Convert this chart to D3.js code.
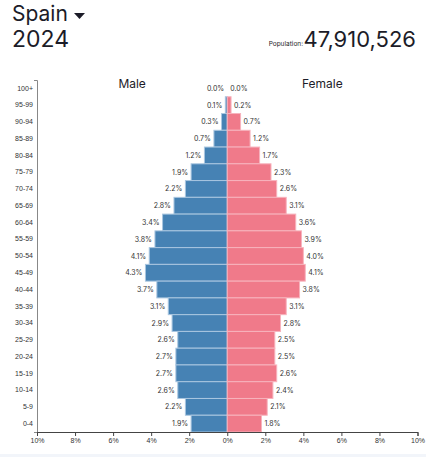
<!DOCTYPE html>
<html>
<head>
<meta charset="utf-8">
<script src="https://cdn.jsdelivr.net/npm/d3@7/dist/d3.min.js"></script>
<style>
  body { margin: 0; background: #fff; font-family: Inter, "Liberation Sans", Arial, sans-serif; }
  svg text { fill: #1c1c28; }
  .val { font-size: 7px; fill: #333; }
  .axis text { font-size: 7px; fill: #333; }
</style>
</head>
<body>
<script>
// age groups, top to bottom
var ageGroups = ["100+", "95-99", "90-94", "85-89", "80-84", "75-79", "70-74", "65-69",
  "60-64", "55-59", "50-54", "45-49", "40-44", "35-39", "30-34", "25-29",
  "20-24", "15-19", "10-14", "5-9", "0-4"];
// share of total population, %
var male = [0.0, 0.1, 0.3, 0.7, 1.2, 1.9, 2.2, 2.8, 3.4, 3.8, 4.1, 4.3, 3.7, 3.1, 2.9, 2.6, 2.7, 2.7, 2.6, 2.2, 1.9];
var female = [0.0, 0.2, 0.7, 1.2, 1.7, 2.3, 2.6, 3.1, 3.6, 3.9, 4.0, 4.1, 3.8, 3.1, 2.8, 2.5, 2.5, 2.6, 2.4, 2.1, 1.8];
var xTicks = [-10, -8, -6, -4, -2, 0, 2, 4, 6, 8, 10];
var country = "Spain", year = "2024", population = 47910526;

var W = 426, H = 457;
var svg = d3.select("body").append("svg").attr("width", W).attr("height", H);

svg.append("rect").attr("x", 0).attr("y", 454).attr("width", W).attr("height", 3).attr("fill", "#f2f5fa");

// header
svg.append("text").attr("x", 12).attr("y", 21).style("font-size", "21px").text(country);
svg.append("path").attr("d", "M74,13 L85,13 L79.5,19 Z").attr("fill", "#1c1c28");
svg.append("text").attr("x", 12).attr("y", 47).style("font-size", "23px").text(year);
svg.append("text").attr("x", 416).attr("y", 47).attr("text-anchor", "end")
  .style("font-size", "22px").text(d3.format(",")(population));
svg.append("text").attr("x", 303).attr("y", 46).attr("text-anchor", "end")
  .style("font-size", "6.5px").text("Population:");

var x = d3.scaleLinear().domain([-10, 10]).range([37, 417.5]);
var y = d3.scaleBand().domain(ageGroups).range([80, 432]).padding(0);

var rows = ageGroups.map(function(g, i) { return { age: g, m: male[i], f: female[i] }; });

// male bars
svg.append("g").selectAll("rect").data(rows).enter().append("rect")
  .attr("x", function(d) { return x(-d.m); })
  .attr("y", function(d) { return y(d.age); })
  .attr("width", function(d) { return x(0) - x(-d.m); })
  .attr("height", y.bandwidth())
  .attr("fill", "#4682b4").attr("stroke", "#a9c6e0").attr("stroke-width", 1);

// female bars
svg.append("g").selectAll("rect").data(rows).enter().append("rect")
  .attr("x", x(0))
  .attr("y", function(d) { return y(d.age); })
  .attr("width", function(d) { return x(d.f) - x(0); })
  .attr("height", y.bandwidth())
  .attr("fill", "#f07a8a").attr("stroke", "#f7b3bd").attr("stroke-width", 1);

// value labels
svg.append("g").selectAll("text").data(rows).enter().append("text")
  .attr("class", "val").attr("text-anchor", "end")
  .attr("x", function(d) { return x(-d.m) - 3; })
  .attr("y", function(d) { return y(d.age) + y.bandwidth() / 2 + 2.5; })
  .text(function(d) { return d.m.toFixed(1) + "%"; });
svg.append("g").selectAll("text").data(rows).enter().append("text")
  .attr("class", "val")
  .attr("x", function(d) { return x(d.f) + 3; })
  .attr("y", function(d) { return y(d.age) + y.bandwidth() / 2 + 2.5; })
  .text(function(d) { return d.f.toFixed(1) + "%"; });

// sex labels
svg.append("text").attr("x", x(-5)).attr("y", 88).attr("text-anchor", "middle").style("font-size", "12px").text("Male");
svg.append("text").attr("x", x(5)).attr("y", 88).attr("text-anchor", "middle").style("font-size", "12px").text("Female");

// axes
var yAxis = svg.append("g").attr("class", "axis").attr("transform", "translate(37,0)")
  .call(d3.axisLeft(y).tickSizeInner(0).tickSizeOuter(3).tickPadding(4));
yAxis.select(".domain").attr("stroke", "#888");

var xAxis = svg.append("g").attr("class", "axis").attr("transform", "translate(0,432)")
  .call(d3.axisBottom(x).tickValues(xTicks).tickSizeOuter(0).tickSize(4)
    .tickFormat(function(d) { return Math.abs(d) + "%"; }));
xAxis.select(".domain").attr("stroke", "#444");
xAxis.selectAll(".tick line").attr("stroke", "#444");
xAxis.selectAll("text").attr("dy", "0.6em");
</script>
</body>
</html>
